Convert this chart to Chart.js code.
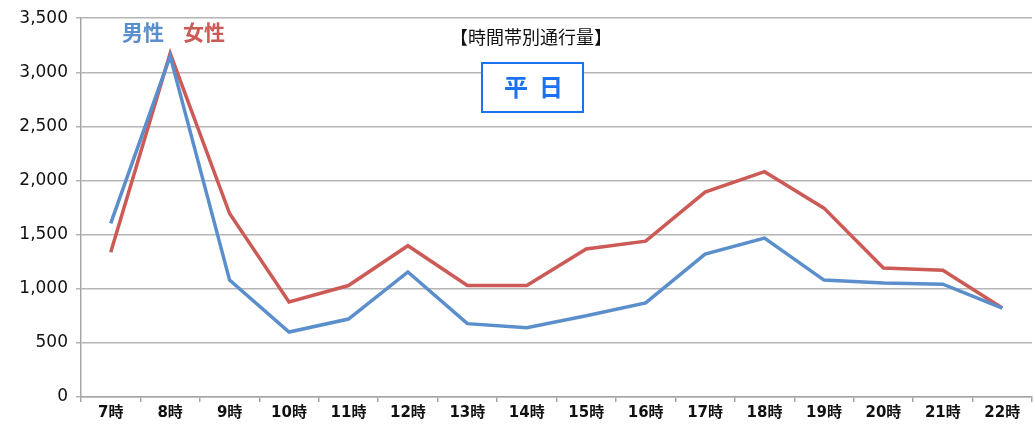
<!DOCTYPE html>
<html><head><meta charset="utf-8">
<script src="https://cdn.jsdelivr.net/npm/chart.js@4/dist/chart.umd.min.js"></script>
<style>html,body{margin:0;padding:0;background:#fff}#wrap{width:1035px;height:427px;position:relative}</style>
</head><body><div id="wrap"><canvas id="c" width="1035" height="427"></canvas></div>
<script>
const categories = ["7時","8時","9時","10時","11時","12時","13時","14時","15時","16時","17時","18時","19時","20時","21時","22時"];
const male = [1605,3150,1080,600,720,1155,678,640,750,870,1320,1468,1080,1053,1042,822];
const female = [1338,3175,1695,878,1030,1398,1030,1030,1368,1440,1893,2082,1745,1192,1172,822];
const yTicks = [0,500,1000,1500,2000,2500,3000,3500];
const FONT = '"Noto Sans CJK JP","Noto Sans",sans-serif';
const NUMFONT = '"DejaVu Sans","Noto Sans CJK JP",sans-serif';

const overlay = {
  id:'overlay',
  afterDraw(chart){
    const ctx = chart.ctx;
    ctx.save();
    ctx.textBaseline='middle';
    ctx.font = 'bold 21px ' + FONT;
    ctx.fillStyle = '#5b8fcb'; ctx.textAlign='left';
    ctx.fillText('男性', 122, 32);
    ctx.fillStyle = '#cc5a56';
    ctx.fillText('女性', 183, 32);
    ctx.font = '18px ' + FONT;
    ctx.fillStyle = '#111'; ctx.textAlign='center';
    ctx.fillText('【時間帯別通行量】', 531, 37);
    ctx.fillStyle = '#fff';
    ctx.fillRect(482, 63, 101, 49);
    ctx.strokeStyle = '#1a72f0'; ctx.lineWidth = 2;
    ctx.strokeRect(482, 63, 101, 49);
    ctx.fillStyle = '#1a72f0';
    ctx.font = 'bold 24px ' + FONT;
    ctx.fillText('平', 516, 87);
    ctx.fillText('日', 551, 87);
    ctx.restore();
  }
};

new Chart(document.getElementById('c'), {
  type:'line',
  data:{labels:categories, datasets:[
    {label:'男性', data:male, borderColor:'#5b8fcb', borderWidth:3.5, pointRadius:0, tension:0, fill:false},
    {label:'女性', data:female, borderColor:'#cc5a56', borderWidth:3.5, pointRadius:0, tension:0, fill:false}
  ]},
  options:{
    responsive:false, animation:false,
    layout:{padding:{top:16,right:3,left:0,bottom:0}},
    plugins:{legend:{display:false}, title:{display:false}, tooltip:{enabled:false}},
    scales:{
      x:{offset:true,
        grid:{offset:true, drawOnChartArea:false, drawTicks:true, tickLength:5, color:'#a6a6a6', lineWidth:1.5},
        border:{color:'#a6a6a6', width:1.5},
        ticks:{font:{family:NUMFONT,size:15,weight:'bold'}, color:'#111', maxRotation:0, autoSkip:false, padding:2},
        afterFit(s){s.height=30;}
      },
      y:{min:0,max:3500,
        afterBuildTicks(s){s.ticks = yTicks.map(v=>({value:v}));},
        grid:{color:'#b5b5b5', lineWidth:1.5, tickLength:5},
        border:{color:'#a6a6a6', width:1.5},
        ticks:{font:{family:NUMFONT,size:17}, color:'#111', padding:8,
          callback:v=>v.toLocaleString('en-US')},
        afterFit(s){s.width=81;}
      }
    }
  },
  plugins:[overlay]
});
</script></body></html>
